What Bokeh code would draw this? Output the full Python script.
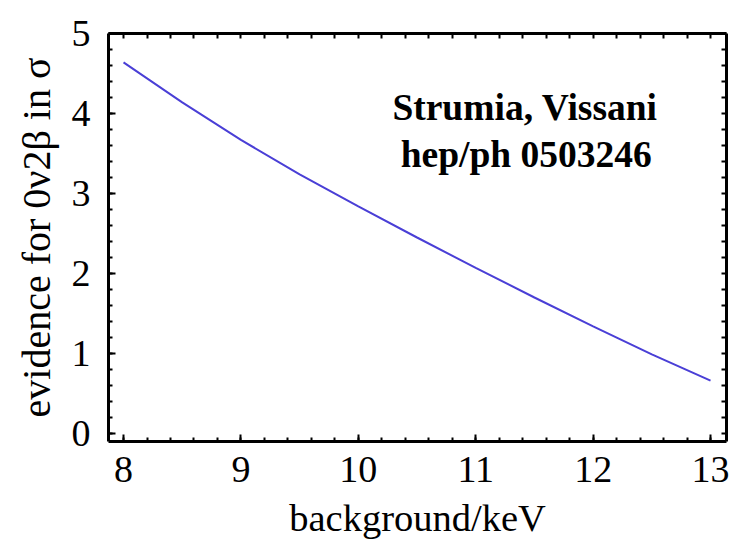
import numpy as np
from bokeh.plotting import figure
from bokeh.models import LinearAxis, Range1d, FixedTicker, ColumnDataSource
from bokeh.core.properties import value
from bokeh.embed import file_html
from bokeh.resources import INLINE

# data
background_keV = [8.0, 8.5, 9.0, 9.5, 10.0, 10.5, 11.0, 11.5, 12.0, 12.5, 13.0]
evidence_sigma = [4.64, 4.14, 3.67, 3.24, 2.84, 2.45, 2.07, 1.70, 1.34, 0.99, 0.66]
x_ticks = [8, 9, 10, 11, 12, 13]
y_ticks = [0, 1, 2, 3, 4, 5]
note_lines = ["Strumia, Vissani", "hep/ph 0503246"]
note_x = [11.42, 11.43]
note_y = [4.08, 3.49]

FONT = "Liberation Serif"
X0, X1 = 7.872, 13.136
Y0, Y1 = -0.1, 5.0

p = figure(width=737, height=544, output_backend="svg", toolbar_location=None,
           x_range=Range1d(X0, X1), y_range=Range1d(Y0, Y1),
           x_axis_location=None, y_axis_location=None,
           min_border_left=108, min_border_right=11, min_border_top=33, min_border_bottom=103)
p.grid.visible = False
p.outline_line_color = None
p.background_fill_color = "white"
p.border_fill_color = "white"

def style(ax):
    ax.axis_line_width = 3
    ax.axis_line_color = "black"
    ax.major_tick_in = 7
    ax.major_tick_out = 0
    ax.minor_tick_in = 4
    ax.minor_tick_out = 0
    ax.major_tick_line_width = 2
    ax.minor_tick_line_width = 2
    ax.major_label_text_font = FONT
    ax.axis_label_text_font = FONT
    ax.axis_label_text_font_style = "normal"
    ax.major_label_text_color = "black"
    ax.axis_label_text_color = "black"

x_minor = list(np.arange(7.8, 13.3, 0.2))
y_minor = list(np.arange(-0.2, 5.1, 0.2))

xb = LinearAxis(ticker=FixedTicker(ticks=x_ticks, minor_ticks=x_minor),
                axis_label="background/keV")
style(xb)
xb.major_label_text_font_size = "38px"
xb.axis_label_text_font_size = "38.5px"
xb.major_label_standoff = 15
xb.axis_label_standoff = 12
p.add_layout(xb, "below")

yl = LinearAxis(ticker=FixedTicker(ticks=y_ticks, minor_ticks=y_minor),
                axis_label="evidence for 0ν2β in σ")
style(yl)
yl.major_label_text_font_size = "38px"
yl.axis_label_text_font_size = "40px"
yl.major_label_standoff = 18
yl.axis_label_standoff = 10
p.add_layout(yl, "left")

xa = LinearAxis(ticker=FixedTicker(ticks=[], minor_ticks=x_minor))
style(xa)
xa.minor_tick_in = 5
p.add_layout(xa, "above")

yr = LinearAxis(ticker=FixedTicker(ticks=[], minor_ticks=y_minor))
style(yr)
yr.minor_tick_in = 5
p.add_layout(yr, "right")

src = ColumnDataSource(dict(x=background_keV, y=evidence_sigma))
p.line("x", "y", source=src, line_color="#4a3fd6", line_width=2)

p.text(x=note_x, y=note_y, text=note_lines, text_font=value(FONT),
       text_font_style="bold", text_font_size="37.5px", text_align="center",
       text_baseline="alphabetic", text_color="black")

open("out.html", "w").write(file_html(p, INLINE))
